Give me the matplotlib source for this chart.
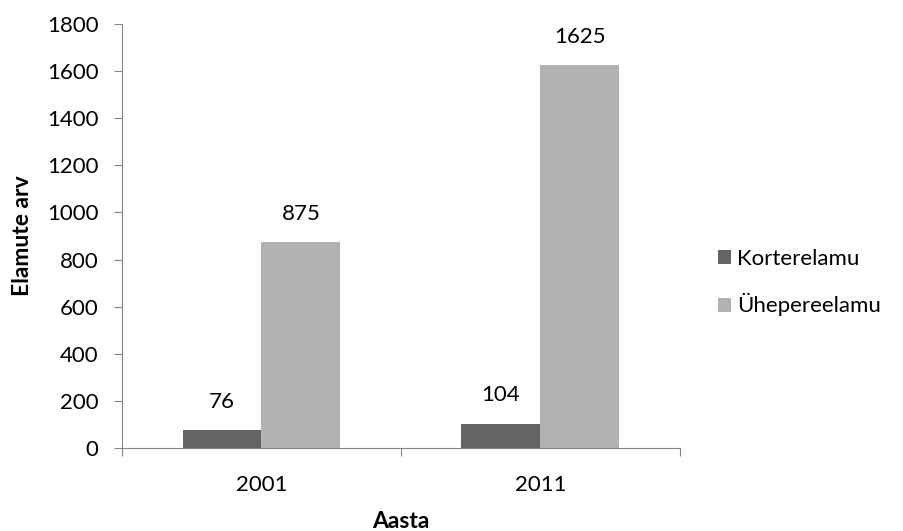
import matplotlib.pyplot as plt
import numpy as np

plt.rcParams['font.family'] = ['Lato', 'DejaVu Sans']

years = ['2001', '2011']
series = ['Korterelamu', 'Ühepereelamu']
korter = [76, 104]
uhepere = [875, 1625]
colors = ['#646464', '#b2b2b2']
axis_col = '#868686'
fs = 16

fig = plt.figure(figsize=(9.04, 5.31), dpi=100)
ax = fig.add_axes([0.135, 0.156, 0.617, 0.799])

pos = np.arange(len(years)) + 0.5
w = 0.283
b1 = ax.bar(pos - w / 2, korter, w, color=colors[0], label=series[0])
b2 = ax.bar(pos + w / 2, uhepere, w, color=colors[1], label=series[1])

for bars in (b1, b2):
    for r in bars:
        ax.text(r.get_x() + r.get_width() / 2, r.get_height() + 78, f'{int(r.get_height())}',
                ha='center', va='bottom', fontsize=fs)

ax.set_xlim(0, 2)
ax.set_ylim(0, 1800)
ax.set_yticks(range(0, 1801, 200))
ax.set_xticks([0, 1, 2], minor=False)
ax.set_xticklabels([])
ax.set_xticks(pos, minor=True)
ax.set_xticklabels(years, minor=True, fontsize=fs)
ax.tick_params(axis='x', which='minor', length=0, pad=19)
ax.tick_params(axis='x', which='major', length=6, color=axis_col)
ax.tick_params(axis='y', length=6, color=axis_col, labelsize=fs, pad=11)

for s in ['top', 'right']:
    ax.spines[s].set_visible(False)
for s in ['left', 'bottom']:
    ax.spines[s].set_color(axis_col)

ax.set_xlabel('Aasta', fontsize=16.5, fontweight='bold')
ax.xaxis.set_label_coords(0.5, -0.148)
ax.set_ylabel('Elamute arv', fontsize=16.5, fontweight='bold')
ax.yaxis.set_label_coords(-0.16, 0.5)

ax.legend(loc='center left', bbox_to_anchor=(1.068, 0.39), frameon=False, fontsize=fs,
          handlelength=0.6, handleheight=0.6, handletextpad=0.25, labelspacing=1.1,
          borderpad=0, borderaxespad=0)

fig.savefig('out.png', dpi=100)
